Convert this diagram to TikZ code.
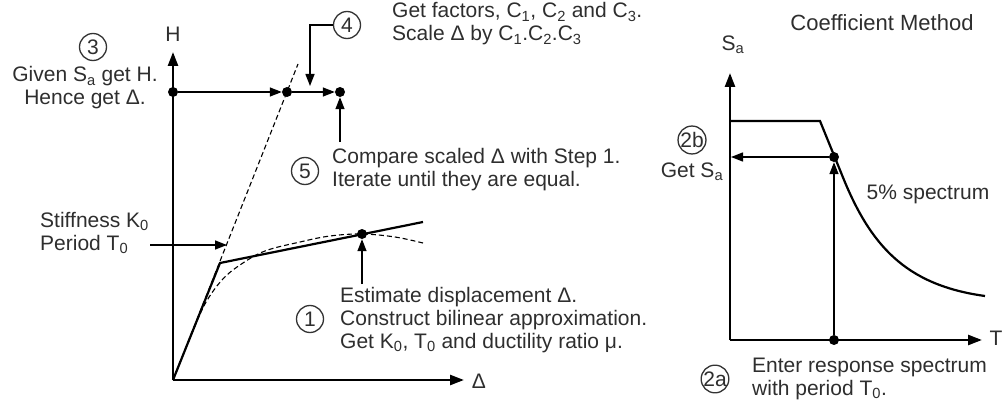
\documentclass[tikz,border=0pt]{standalone}
\usepackage{fontspec}
\setmainfont{Liberation Sans}
\usetikzlibrary{arrows.meta}
\begin{document}
\begin{tikzpicture}[x=1pt,y=-1pt,
  every node/.style={font=\fontsize{21}{23}\selectfont, text=black!82},
  axis/.style={line width=2.5pt,-{Triangle[length=14pt,width=10pt]}},
  arr/.style={line width=1.4pt,-{Triangle[length=12pt,width=9pt]}},
  curve/.style={line width=2.2pt},
  dashline/.style={line width=1.1pt,dash pattern=on 5pt off 3pt},
  dot/.style={circle,fill=black,inner sep=0pt,minimum size=10pt},
  num/.style={circle,draw=black!80,line width=1.3pt,minimum size=27pt,inner sep=0pt},
  txt/.style={align=left,anchor=west,inner sep=0pt}]
\useasboundingbox (0,0) rectangle (1005,404);

% ---------- left plot ----------
\coordinate (O) at (173,380);
\coordinate (Htip) at (173,52);
\coordinate (Dtip) at (464,380);
\draw[axis] (O) -- (Htip);
\draw[axis] (O) -- (Dtip);
\node (Hlab) at (173,34) {H};
\node (Dlab) at (479,381) {Δ};

% dashed initial stiffness line
\coordinate (dtop) at (298,64);
\draw[dashline] (O) -- (dtop);

% pushover curve (dashed)
\draw[dashline] plot[smooth,tension=0.6] coordinates {(173,380) (190,338) (205,304) (222,280) (240,265) (265,251) (300,242) (330,236) (362,234) (395,237) (423,243)};

% bilinear approximation
\coordinate (K) at (220,263);
\coordinate (Bend) at (423,222);
\draw[curve] (O) -- (K) -- (Bend);

% dots
\node[dot] (A0) at (173,92) {};
\node[dot] (B) at (287,92) {};
\node[dot] (C) at (340,92) {};
\node[dot] (D) at (362,234) {};
\draw[arr] (A0) -- (B);
\draw[arr] (B) -- (C);

% step 3
\node[num] (n3) at (93,47) {3};
\node[align=center,inner sep=0pt] (t3) at (85,88) {Given S\textsubscript{a} get H.\\Hence get Δ.};

% step 4
\node[num] (n4) at (347,25) {4};
\node[txt] (t4) at (392,24) {Get factors, C\textsubscript{1}, C\textsubscript{2} and C\textsubscript{3}.\\Scale Δ by C\textsubscript{1}.C\textsubscript{2}.C\textsubscript{3}};
\coordinate (c4e) at (310,86);
\draw[arr] (n4.west) -| (c4e);

% step 5
\node[num] (n5) at (305,171) {5};
\node[txt] (t5) at (332,170) {Compare scaled Δ with Step 1.\\Iterate until they are equal.};
\coordinate (c5s) at (340,142);
\draw[arr] (c5s) -- (C);

% stiffness
\node[txt] (tst) at (40,233) {Stiffness K\textsubscript{0}\\Period T\textsubscript{0}};
\coordinate (stA) at (150,245);
\coordinate (stB) at (227,245);
\draw[arr] (stA) -- (stB);

% step 1
\node[num] (n1) at (310,319) {1};
\node[txt] (t1) at (340,320) {Estimate displacement Δ.\\Construct bilinear approximation.\\Get K\textsubscript{0}, T\textsubscript{0} and ductility ratio μ.};
\coordinate (c1s) at (362,284);
\draw[arr] (c1s) -- (D);

% ---------- right plot ----------
\node[font=\fontsize{22}{24}\selectfont] (title) at (882,23) {Coefficient Method};
\coordinate (O2) at (730,340);
\coordinate (Stip) at (730,73);
\coordinate (Ttip) at (982,340);
\draw[axis] (O2) -- (Stip);
\draw[axis] (O2) -- (Ttip);
\node (Slab) at (733,45) {S\textsubscript{a}};
\node (Tlab) at (996,338) {T};

% spectrum
\draw[curve] (730,121) -- (820,121) -- (842,175) .. controls (870,245) and (905,285) .. (985,296);
\node (spec) at (928,194) {5\% spectrum};

\node[dot] (E) at (834,157) {};
\node[dot] (F) at (834,340) {};
\coordinate (Sa) at (731,157);
\draw[arr] (F) -- (E);
\draw[arr] (E) -- (Sa);

% step 2b
\node[num] (n2b) at (692,140) {2b};
\node (t2b) at (692,172) {Get S\textsubscript{a}};

% step 2a
\node[num] (n2a) at (715,379) {2a};
\node[txt] (t2a) at (752,379) {Enter response spectrum\\with period T\textsubscript{0}.};
\end{tikzpicture}
\end{document}
